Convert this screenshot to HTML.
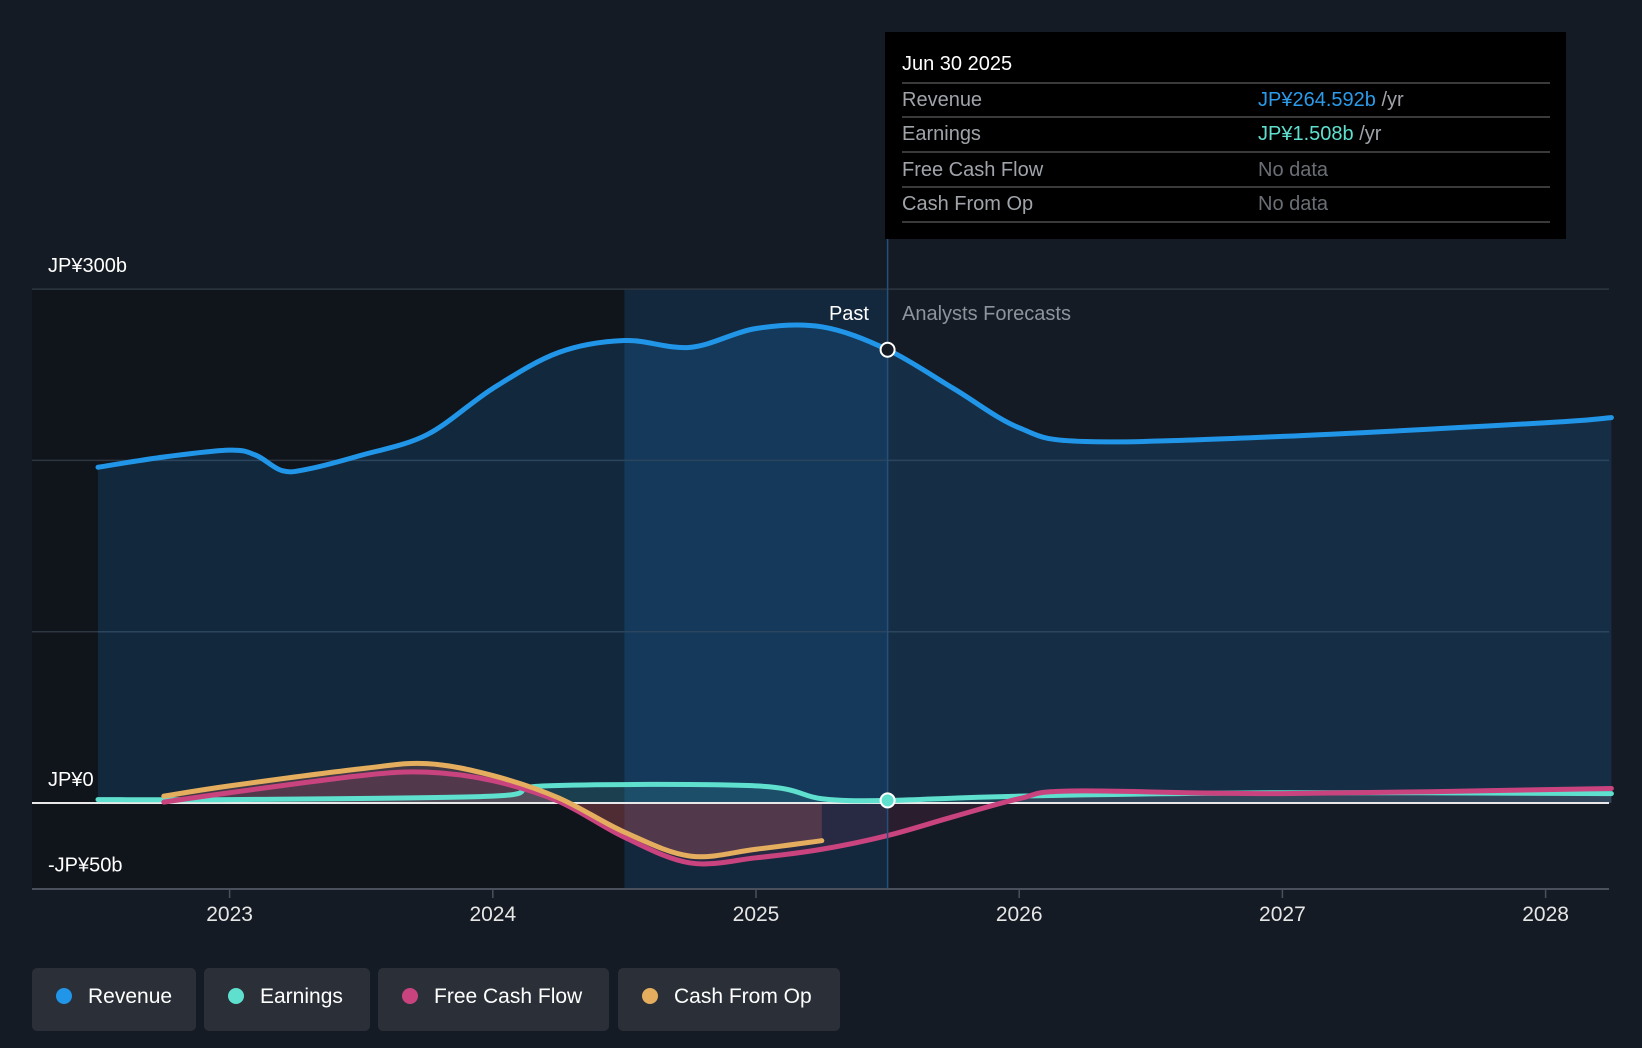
<!DOCTYPE html>
<html><head><meta charset="utf-8"><style>
body{margin:0;background:#151b24;font-family:"Liberation Sans",sans-serif;}
svg{display:block}
</style></head><body>
<svg id="c" width="1642" height="1048">
<rect width="1642" height="1048" fill="#151b24"/>
<g id="plot"></g>
</svg>
<script>
const years=[2023,2024,2025,2026,2027,2028];
const yTicks=[300,0,-50];
const yTickLabels=["JP¥300b","JP¥0","-JP¥50b"];
const revT=[2022.5,2022.75,2023,2023.1,2023.2,2023.3,2023.5,2023.75,2024,2024.25,2024.5,2024.75,2025,2025.25,2025.5,2025.75,2026,2026.25,2027,2028,2028.25];
const revV=[196,202,206,203,194,195,203,215,242,263,270,266,277,278,264.6,242,219,211,214,222,225];
const earT=[2022.5,2023,2024,2024.2,2025,2025.25,2025.5,2026,2027,2028.25];
const earV=[2,2,4,10,10,2.5,1.5,4,6,5.5];
const fcfT=[2022.75,2023,2023.5,2023.75,2024,2024.25,2024.5,2024.75,2025,2025.25,2025.5,2025.75,2026,2026.2,2027,2028.25];
const fcfV=[0.5,6,16,18,13,1,-20,-35,-32,-27,-19,-8,2.5,7,5.5,8.5];
const cfoT=[2022.75,2023,2023.5,2023.75,2024,2024.25,2024.5,2024.75,2025,2025.25];
const cfoV=[4,10,20,23,16,3,-17,-31,-27,-22];

const X=t=>756+(t-2025)*263.2;
const Y=v=>803-v*1.713;
const NS="http://www.w3.org/2000/svg";
const g=document.getElementById('plot');
function el(tag,attrs,parent){const e=document.createElementNS(NS,tag);for(const k in attrs)e.setAttribute(k,attrs[k]);(parent||g).appendChild(e);return e;}
function path(T,V){const p=T.map((t,i)=>[X(t),Y(V[i])]);let d=`M${p[0][0]},${p[0][1]}`;
for(let i=0;i<p.length-1;i++){const p0=p[i-1]||p[i],p1=p[i],p2=p[i+1],p3=p[i+2]||p2;
d+=` C${p1[0]+(p2[0]-p0[0])/6},${p1[1]+(p2[1]-p0[1])/6} ${p2[0]-(p3[0]-p1[0])/6},${p2[1]-(p3[1]-p1[1])/6} ${p2[0]},${p2[1]}`;}return d;}
// regions
let r=el('rect',{x:32,y:289,width:X(2024.5)-32,height:600,fill:'#10141b'});

r=el('rect',{x:X(2024.5),y:289,width:X(2025.5)-X(2024.5),height:600,fill:'#13283d'});

// gridlines
[300,200,100].forEach(v=>{const l=el('line',{x1:32,x2:1609,y1:Y(v),y2:Y(v),stroke:'#2e3642','stroke-width':1.5});
});
// revenue area
const rd=path(revT,revV);
let a=el('path',{d:rd+` L${X(revT[revT.length-1])},${Y(0)} L${X(revT[0])},${Y(0)} Z`,fill:'rgba(33,150,243,0.16)'});

function area(T,V,fill,name){const e=el('path',{d:path(T,V)+` L${X(T[T.length-1])},${Y(0)} L${X(T[0])},${Y(0)} Z`,fill:fill});
}
area(cfoT,cfoV,'rgba(230,120,100,0.22)','cfo-area');
area(fcfT,fcfV,'rgba(200,60,120,0.12)','fcf-area');
area(earT,earV,'rgba(100,230,210,0.12)','earnings-area');
// zero line
let z=el('line',{x1:32,x2:1609,y1:Y(0),y2:Y(0),stroke:'#e8e8e8','stroke-width':2});

function line(T,V,c,name){const e=el('path',{d:path(T,V),fill:'none',stroke:c,'stroke-width':5,'stroke-linecap':'round'});
}
line(earT,earV,'#5fe0cf','earnings-line');
line(fcfT,fcfV,'#c9447f','fcf-line');
line(cfoT,cfoV,'#e5ae5e','cfo-line');
line(revT,revV,'#2196e8','revenue-line');
// past line
let pl=el('line',{x1:X(2025.5),x2:X(2025.5),y1:239,y2:889,stroke:'#24507a','stroke-width':1.5});

let d1=el('circle',{cx:X(2025.5),cy:Y(264.6),r:7,fill:'#151b24',stroke:'#fff','stroke-width':2});

let d2=el('circle',{cx:X(2025.5),cy:Y(1.5),r:7,fill:'#5fe0cf',stroke:'#fff','stroke-width':2});

// axis
let ax=el('line',{x1:32,x2:1609,y1:889,y2:889,stroke:'#4a515c','stroke-width':2});

years.forEach(y=>{const t=el('line',{x1:X(y),x2:X(y),y1:889,y2:898,stroke:'#4a515c','stroke-width':1.5});

const tx=el('text',{x:X(y),y:921,fill:'#e6e6e6','font-size':21,'text-anchor':'middle'});tx.textContent=y;
});
yTicks.forEach((v,i)=>{const tx=el('text',{x:48,y:Y(v)-17,fill:'#fff','font-size':20});tx.textContent=yTickLabels[i];
});
let t1=el('text',{x:869,y:320,fill:'#fff','font-size':20,'text-anchor':'end'});t1.textContent='Past';

let t2=el('text',{x:902,y:320,fill:'#8e949c','font-size':20});t2.textContent='Analysts Forecasts';

// tooltip
const tip=el('g',{});
el('rect',{x:885,y:32,width:681,height:207,fill:'#000'},tip);
let tt=el('text',{x:902,y:70,fill:'#fff','font-size':20});tt.textContent='Jun 30 2025';tip.appendChild(tt);
const rows=[["Revenue","JP¥264.592b","#2b9bea"],["Earnings","JP¥1.508b","#5fe0cf"],["Free Cash Flow","No data",null],["Cash From Op","No data",null]];
const rowY=[106,140,176,210];
[83,117,152,187,222].forEach(y=>{el('line',{x1:902,x2:1550,y1:y,y2:y,stroke:'#3a3a3a','stroke-width':2},tip);});
rows.forEach((r,i)=>{let a=el('text',{x:902,y:rowY[i],fill:'#a0a4aa','font-size':20},tip);a.textContent=r[0];

let b=el('text',{x:1258,y:rowY[i],'font-size':20,fill:r[2]||'#6b6f75'},tip);
if(r[2]){b.textContent=r[1];const s=document.createElementNS(NS,'tspan');s.setAttribute('fill','#a0a4aa');s.textContent=' /yr';b.appendChild(s);}else b.textContent=r[1];
});
// legend
const leg=[["Revenue","#2196e8",32,164],["Earnings","#5fe0cf",204,166],["Free Cash Flow","#c9447f",378,231],["Cash From Op","#e5ae5e",618,222]];
leg.forEach(l=>{const gg=el('g',{});
el('rect',{x:l[2],y:968,width:l[3],height:63,rx:5,fill:'#2a2f38'},gg);
el('circle',{cx:l[2]+32,cy:996,r:8,fill:l[1]},gg);
const t=el('text',{x:l[2]+56,y:1003,fill:'#fff','font-size':21},gg);t.textContent=l[0];});
</script>
</body></html>
